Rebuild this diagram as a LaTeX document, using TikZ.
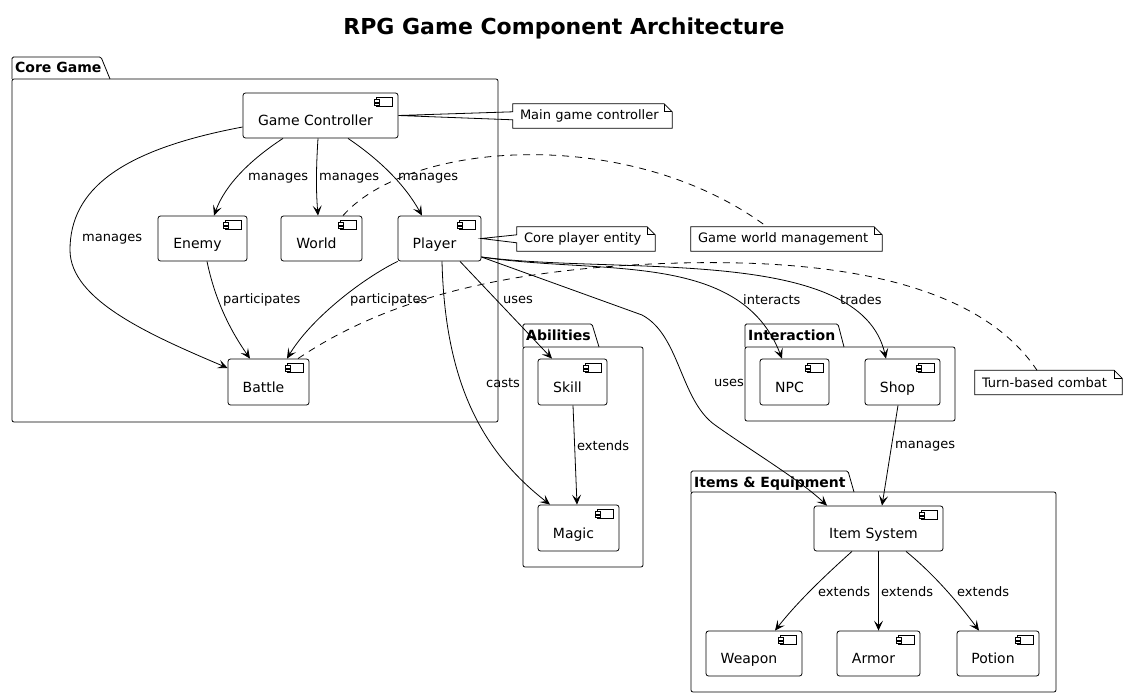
\documentclass[tikz,border=0pt]{standalone}
\usepackage{fontspec}
\setmainfont{DejaVu Sans}
\usetikzlibrary{arrows.meta,calc}
\newcommand\cicon[1]{%
  \draw[line width=0.6pt, fill=white] ($(#1.north east)+(-22,5)$) rectangle ($(#1.north east)+(-6,14)$);
  \draw[line width=0.6pt, fill=white] ($(#1.north east)+(-24,7)$) rectangle ($(#1.north east)+(-19,9.5)$);
  \draw[line width=0.6pt, fill=white] ($(#1.north east)+(-24,10.5)$) rectangle ($(#1.north east)+(-19,13)$);}
\newcommand\noteplain[1]{%
  \draw[line width=0.8pt] (#1.north west) -- (#1.south west) -- (#1.south east) -- ($(#1.north east)+(0,8)$) -- ($(#1.north east)+(-8,0)$) -- cycle;
  \draw[line width=0.8pt] ($(#1.north east)+(-8,0)$) -- ++(0,8) -- ++(8,0);}
\newcommand\notewedge[2]{%
  \draw[line width=0.8pt] (#1.north west) -- ($(#1.north west)+(0,8)$) -- (#2) -- ($(#1.north west)+(0,16)$) -- (#1.south west) -- (#1.south east) -- ($(#1.north east)+(0,8)$) -- ($(#1.north east)+(-8,0)$) -- cycle;
  \draw[line width=0.8pt] ($(#1.north east)+(-8,0)$) -- ++(0,8) -- ++(8,0);}
\begin{document}
\begin{tikzpicture}[x=1pt,y=-1pt,
  comp/.style={draw, line width=0.8pt, rounded corners=2.5pt, fill=white, minimum height=45pt, text height=23pt, text depth=3pt, inner sep=0pt, font=\fontsize{14}{16}\selectfont},
  lbl/.style={anchor=west, inner sep=0pt, font=\fontsize{13}{15}\selectfont},
  notebox/.style={inner xsep=7pt, inner ysep=0pt, minimum height=24pt, align=left, font=\fontsize{13}{15}\selectfont},
  pkgtitle/.style={anchor=base west, inner sep=0pt, font=\bfseries\fontsize{14}{16}\selectfont},
  conn/.style={line width=0.8pt, -{Stealth[length=10pt,width=9pt,inset=4.5pt]}},
  notelink/.style={line width=0.8pt, dash pattern=on 7pt off 6pt},
  pkg/.style={line width=0.8pt}
]
\useasboundingbox[fill=white] (0,0) rectangle (1128,698);

% title
\node[font=\bfseries\fontsize{22}{26}\selectfont] (title) at (564,28) {RPG Game Component Architecture};

% packages
\draw[pkg, rounded corners=2pt] (12,79) rectangle (498,422);
\draw[pkg, rounded corners=1.5pt] (12,79) -- (12,57) -- (101,57) -- (110,79);
\node[pkgtitle] (tcore) at (15,73) {Core Game};

\draw[pkg, rounded corners=2pt] (523,347) rectangle (643,567);
\draw[pkg, rounded corners=1.5pt] (523,347) -- (523,324) -- (592,324) -- (599,347);
\node[pkgtitle] (tabil) at (526,340) {Abilities};

\draw[pkg, rounded corners=2pt] (745,347) rectangle (955,421);
\draw[pkg, rounded corners=1.5pt] (745,347) -- (745,324) -- (838,324) -- (844,347);
\node[pkgtitle] (tinter) at (748,340) {Interaction};

\draw[pkg, rounded corners=2pt] (691,492) rectangle (1056,692);
\draw[pkg, rounded corners=1.5pt] (691,492) -- (691,471) -- (848,471) -- (854,492);
\node[pkgtitle] (titems) at (694,487) {Items \& Equipment};

% components
\node[comp, minimum width=155pt] (gc) at (320.5,115.5) {Game Controller\hspace*{10pt}};
\node[comp, minimum width=89pt] (en) at (202.5,238.5) {Enemy\hspace*{10pt}};
\node[comp, minimum width=81pt] (wo) at (321.5,238.5) {World\hspace*{10pt}};
\node[comp, minimum width=83pt] (pl) at (439.5,238.5) {Player\hspace*{10pt}};
\node[comp, minimum width=81pt, minimum height=46pt] (ba) at (268.5,382) {Battle\hspace*{10pt}};
\node[comp, minimum width=69pt, minimum height=46pt] (sk) at (572.5,382) {Skill\hspace*{10pt}};
\node[comp, minimum width=81pt, minimum height=46pt] (ma) at (578.5,528) {Magic\hspace*{10pt}};
\node[comp, minimum width=69pt, minimum height=46pt] (npc) at (794.5,382) {NPC\hspace*{10pt}};
\node[comp, minimum width=75pt, minimum height=46pt] (sh) at (902.5,382) {Shop\hspace*{10pt}};
\node[comp, minimum width=129pt] (is) at (878.5,528.5) {Item System\hspace*{10pt}};
\node[comp, minimum width=96pt] (we) at (754,653.5) {Weapon\hspace*{10pt}};
\node[comp, minimum width=83pt] (ar) at (878.5,653.5) {Armor\hspace*{10pt}};
\node[comp, minimum width=82pt] (po) at (998,653.5) {Potion\hspace*{10pt}};
\foreach \nm in {gc,en,wo,pl,ba,sk,ma,npc,sh,is,we,ar,po} {\cicon{\nm}}

% notes
\node[notebox, text width=145pt] (n1) at (592.5,116) {Main game controller};
\notewedge{n1}{gc.east}
\node[notebox, text width=124pt] (n2) at (586,239) {Core player entity};
\notewedge{n2}{pl.east}
\node[notebox, text width=177pt] (n3) at (786.5,239) {Game world management};
\noteplain{n3}
\node[notebox, text width=133pt] (n4) at (1048.5,382.5) {Turn-based combat};
\noteplain{n4}

% dashed note links
\draw[notelink] ([xshift=21.5pt]wo.north) .. controls (410,140) and (630,125) .. ([xshift=-19.5pt]n3.north);
\draw[notelink] ([xshift=29.5pt]ba.north) .. controls (370,310) and (480,268) .. (680,263) .. controls (880,258) and (990,300) .. ([xshift=-11.5pt]n4.north);

% connectors
\draw[conn] ([xshift=-37.5pt]gc.south) .. controls (250,160) and (225,185) .. ([xshift=11.5pt]en.north);
\draw[conn] ([xshift=-2.5pt]gc.south) .. controls (316,170) and (316,190) .. ([xshift=-3.5pt]wo.north);
\draw[conn] ([xshift=27.5pt]gc.south) .. controls (380,160) and (405,185) .. ([xshift=-17.5pt]pl.north);
\draw[conn] ([yshift=-11.5pt]gc.west) .. controls (120,150) and (70,190) .. (70,250) .. controls (70,300) and (150,335) .. ([yshift=14pt]ba.west);
\draw[conn] ([xshift=4.5pt]en.south) .. controls (215,300) and (230,330) .. ([xshift=-18.5pt]ba.north);
\draw[conn] (pl.south west) .. controls (360,280) and (310,320) .. ([xshift=18.5pt]ba.north);
\draw[conn] ([xshift=20.5pt]pl.south) -- ([xshift=-20.5pt]sk.north);
\draw[conn] ([xshift=2.5pt]pl.south) .. controls (445,380) and (480,450) .. ([xshift=-28.5pt]ma.north);
\draw[conn] ([yshift=-18.5pt]pl.east) -- (642,315) .. controls (680,335) and (680,400) .. (715,425) .. controls (750,450) and (800,480) .. ([xshift=-51.5pt]is.north);
\draw[conn] ([yshift=-18.5pt]pl.east) .. controls (600,275) and (740,250) .. ([xshift=-12.5pt]npc.north);
\draw[conn] ([yshift=-18.5pt]pl.east) .. controls (620,275) and (860,245) .. ([xshift=-16.5pt]sh.north);
\draw[conn] ([xshift=-4.5pt]sh.south) -- ([xshift=3.5pt]is.north);
\draw[conn] ([xshift=0.5pt]sk.south) -- ([xshift=-1.5pt]ma.north);
\draw[conn] ([xshift=-26.5pt]is.south) .. controls (820,580) and (795,605) .. ([xshift=21pt]we.north);
\draw[conn] (is.south) -- (ar.north);
\draw[conn] ([xshift=27.5pt]is.south) .. controls (935,575) and (960,605) .. ([xshift=-19pt]po.north);

% labels
\node[lbl] (l1) at (248,178) {manages};
\node[lbl] (l2) at (319,178) {manages};
\node[lbl] (l3) at (398,178) {manages};
\node[lbl] (l4) at (82,239) {manages};
\node[lbl] (l5) at (223,300) {participates};
\node[lbl] (l6) at (350,300) {participates};
\node[lbl] (l7) at (503,300) {uses};
\node[lbl] (l8) at (486,383) {casts};
\node[lbl] (l9) at (714,383) {uses};
\node[lbl] (l10) at (743,300) {interacts};
\node[lbl] (l11) at (840,300) {trades};
\node[lbl] (l12) at (577,446) {extends};
\node[lbl] (l13) at (895,446) {manages};
\node[lbl] (l14) at (818,592) {extends};
\node[lbl] (l15) at (881,592) {extends};
\node[lbl] (l16) at (957,592) {extends};
\end{tikzpicture}
\end{document}
